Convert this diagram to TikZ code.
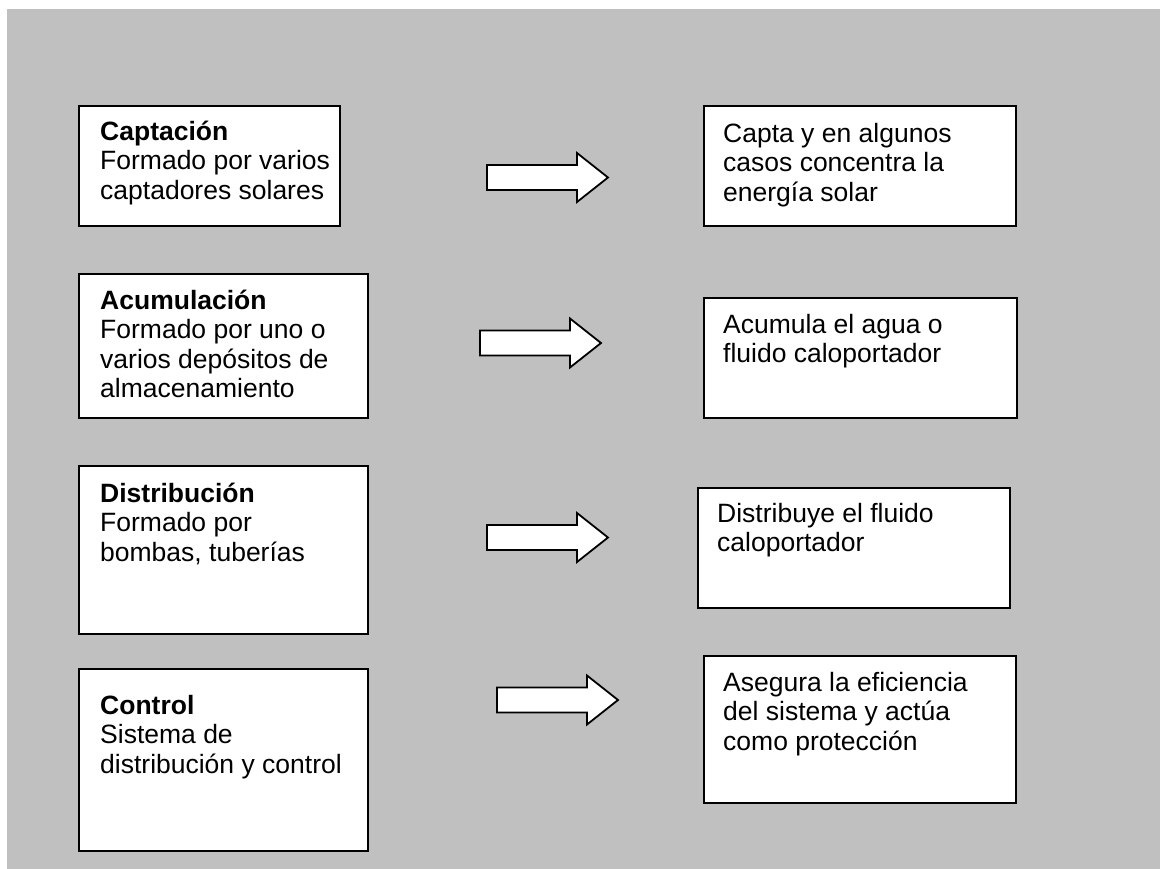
\documentclass[tikz,border=0pt]{standalone}
\usepackage{fontspec}
\setmainfont{Liberation Sans}
\definecolor{bggray}{RGB}{192,192,192}
\tikzset{
  box/.style={draw=black, fill=white, line width=1.8pt, inner sep=0pt, anchor=north west},
  txt/.style={anchor=base west, inner sep=0pt, font=\fontsize{26.5}{29.5}\selectfont},
  arrowstyle/.style={draw=black, fill=white, line width=1.8pt, line join=miter},
  blockarrow/.pic={\path[arrowstyle] (0,-12.5) -- (90,-12.5) -- (90,-24.5) -- (121,0) -- (90,24.5) -- (90,12.5) -- (0,12.5) -- cycle;}
}
\begin{document}
\begin{tikzpicture}[x=1pt,y=-1pt]
\useasboundingbox (0,0) rectangle (1160,868);
\fill[white] (0,0) rectangle (1160,868);
\fill[bggray] (7,9) rectangle (1161,869);

% left boxes
\node[box, minimum width=261pt, minimum height=120pt] (l1) at (78,105) {};
\node[box, minimum width=289pt, minimum height=144pt] (l2) at (78,273) {};
\node[box, minimum width=289pt, minimum height=168pt] (l3) at (78,465) {};
\node[box, minimum width=289pt, minimum height=182pt] (l4) at (78,668) {};

% right boxes
\node[box, minimum width=312pt, minimum height=120pt] (r1) at (703,105) {};
\node[box, minimum width=313pt, minimum height=120pt] (r2) at (703,297) {};
\node[box, minimum width=312pt, minimum height=120pt] (r3) at (697,487) {};
\node[box, minimum width=312pt, minimum height=147pt] (r4) at (703,655) {};

% texts
\node[txt] (l1t) at (100,140) {\parbox[t]{235pt}{\textbf{Captación}\\Formado por varios\\captadores solares}};
\node[txt] (l2t) at (100,309) {\parbox[t]{260pt}{\textbf{Acumulación}\\Formado por uno o\\varios depósitos de\\almacenamiento}};
\node[txt] (l3t) at (100,502) {\parbox[t]{260pt}{\textbf{Distribución}\\Formado por\\bombas, tuberías}};
\node[txt] (l4t) at (100,714) {\parbox[t]{260pt}{\textbf{Control}\\Sistema de\\distribución y control}};

\node[txt] (r1t) at (723,142) {\parbox[t]{280pt}{Capta y en algunos\\casos concentra la\\energía solar}};
\node[txt] (r2t) at (723,333) {\parbox[t]{280pt}{Acumula el agua o\\fluido caloportador}};
\node[txt] (r3t) at (717,522) {\parbox[t]{280pt}{Distribuye el fluido\\caloportador}};
\node[txt] (r4t) at (723,691) {\parbox[t]{280pt}{Asegura la eficiencia\\del sistema y actúa\\como protección}};

% block arrows
\pic at (487,177.5) {blockarrow};
\pic at (480,343) {blockarrow};
\pic at (487,537.5) {blockarrow};
\pic at (497,700) {blockarrow};
\end{tikzpicture}
\end{document}
